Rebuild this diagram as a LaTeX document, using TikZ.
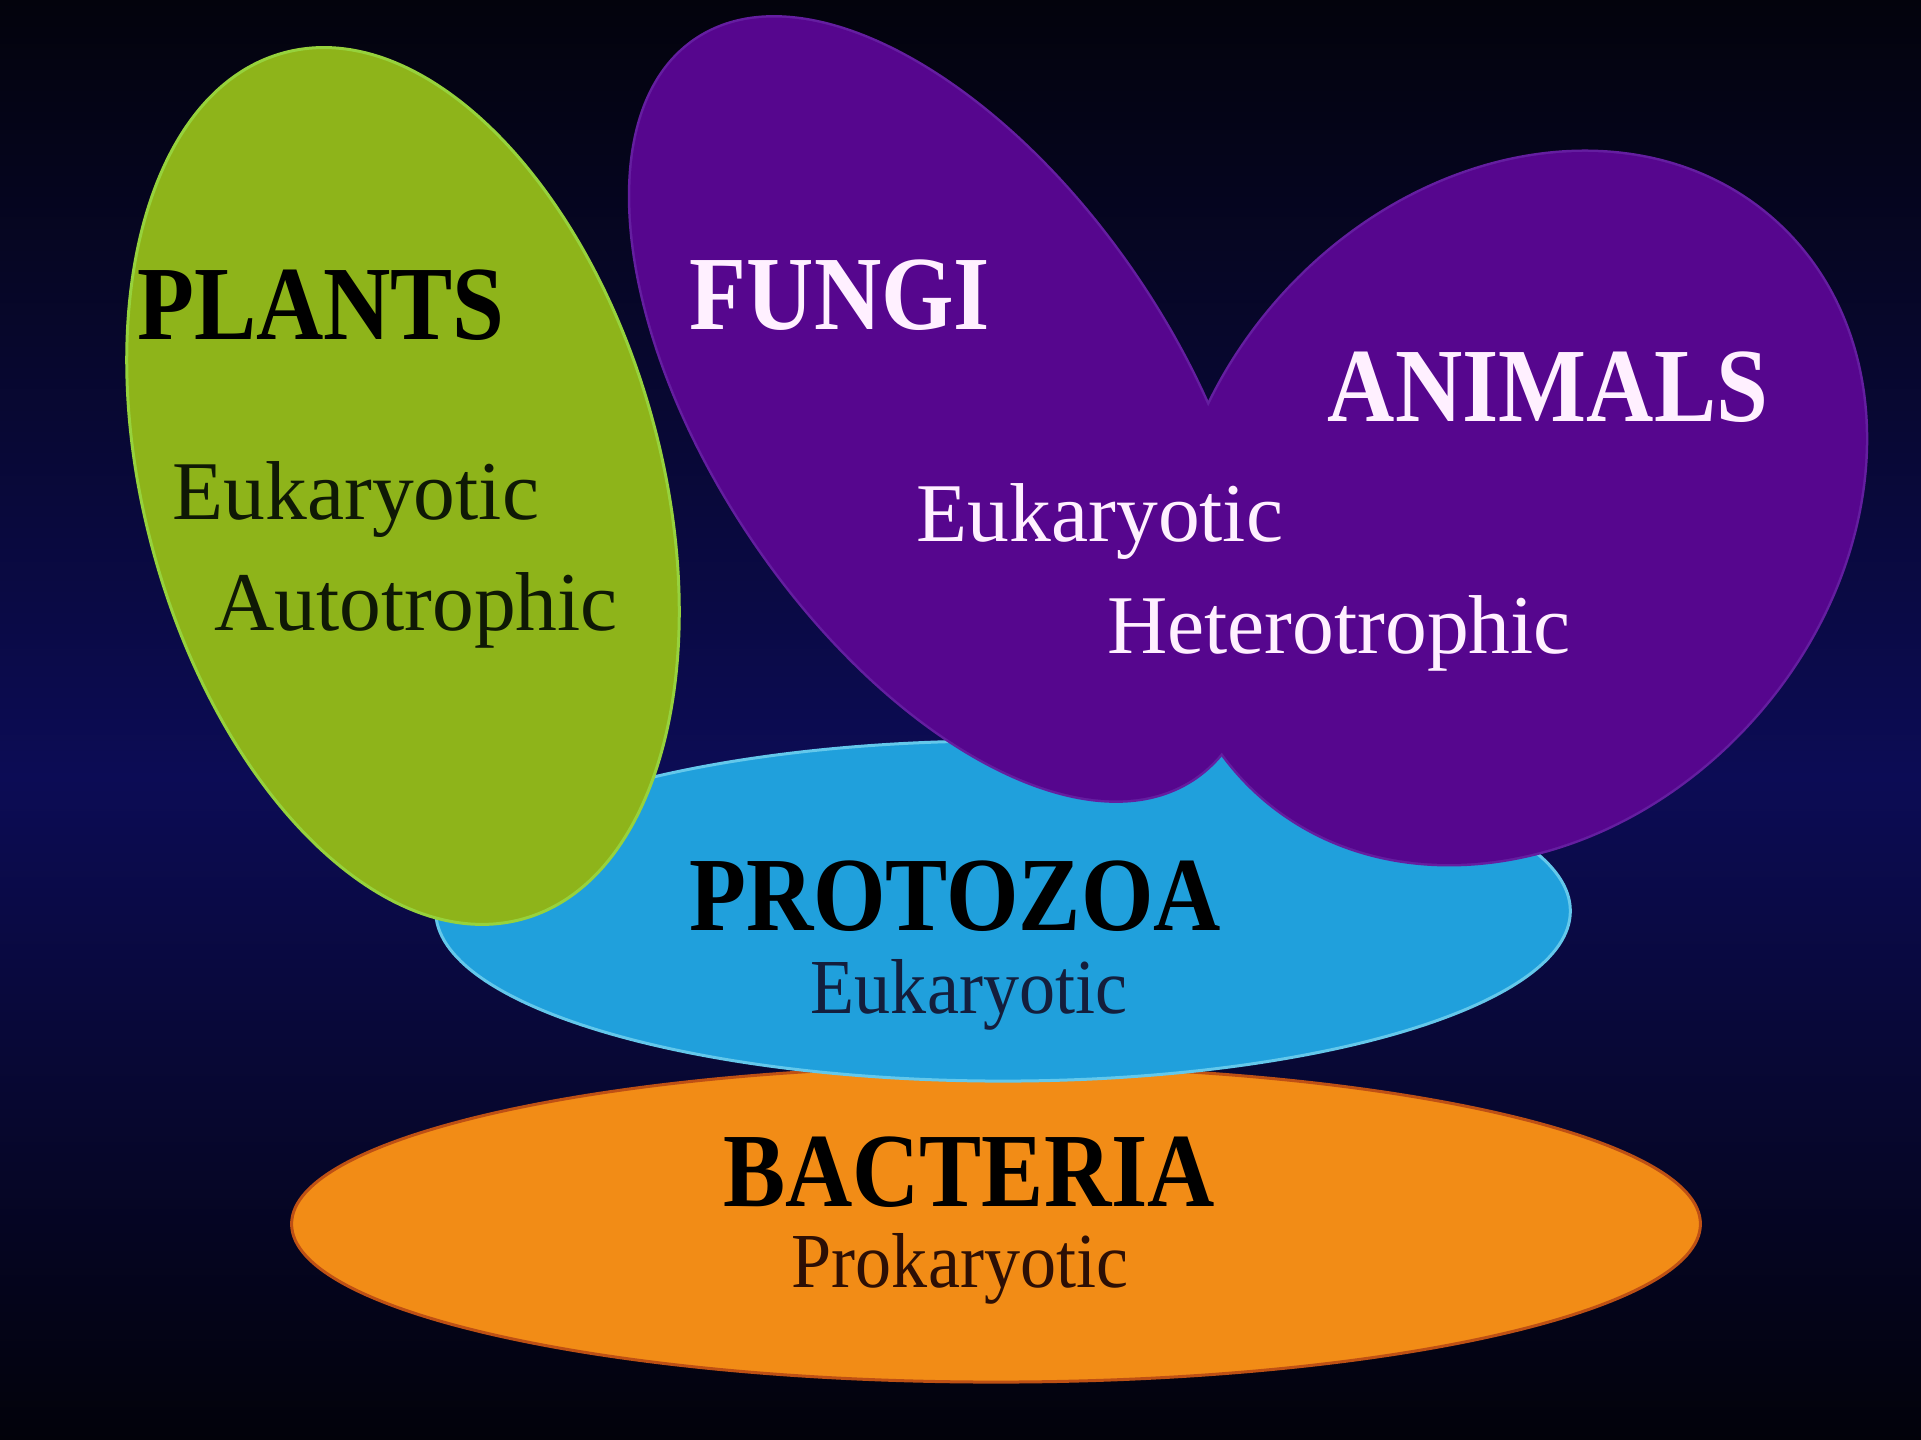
\documentclass[tikz,border=0pt]{standalone}
\usepackage{fontspec}
\setmainfont{Liberation Serif}
\definecolor{bgtop}{RGB}{3,3,12}
\definecolor{bgmid}{RGB}{12,12,85}
\definecolor{bgbot}{RGB}{2,2,10}
\definecolor{plantc}{RGB}{142,180,26}
\definecolor{plantedge}{RGB}{150,210,60}
\definecolor{purp}{RGB}{86,6,142}
\definecolor{purpedge}{RGB}{100,30,160}
\definecolor{protc}{RGB}{32,160,220}
\definecolor{protedge}{RGB}{100,200,235}
\definecolor{bactc}{RGB}{242,140,22}
\definecolor{bactedge}{RGB}{190,80,20}
\definecolor{wtext}{RGB}{255,240,255}
\definecolor{dgreen}{RGB}{15,25,5}
\definecolor{dnavy}{RGB}{20,30,60}
\definecolor{dbrown}{RGB}{45,15,5}
\pgfdeclareverticalshading{bgshade}{100bp}{color(0bp)=(bgbot); color(25bp)=(bgbot); color(48bp)=(bgmid); color(75bp)=(bgtop); color(100bp)=(bgtop)}
\tikzset{
  title/.style={font=\bfseries\fontsize{26.5pt}{30pt}\selectfont, anchor=base, inner sep=0pt},
  subbig/.style={font=\fontsize{23.75pt}{27pt}\selectfont, anchor=base, inner sep=0pt},
  subsmall/.style={font=\fontsize{20.5pt}{24pt}\selectfont, anchor=base, inner sep=0pt},
  edge/.style={line width=0.05cm}
}
\begin{document}
\begin{tikzpicture}[x=0.01cm,y=0.01cm]
\useasboundingbox (0,0) rectangle (1921,1440);
\shade[shading=bgshade] (0,0) rectangle (1921,1440);
% bacteria
\fill[bactc, draw=bactedge, line width=0.03cm] (996,216) ellipse [x radius=7.04cm, y radius=1.58cm];
% protozoa
\fill[protc, draw=protedge, line width=0.03cm] (1003,529) ellipse [x radius=5.67cm, y radius=1.70cm];
% plants
\fill[plantc, draw=plantedge, line width=0.03cm, shift={(403,954)}, rotate=-74.5] (0,0) ellipse [x radius=4.49cm, y radius=2.58cm];
% fungi + animals
\draw[purpedge, edge, shift={(945,1031)}, rotate=-56] (0,0) ellipse [x radius=4.45cm, y radius=2.32cm];
\draw[purpedge, edge, shift={(1517,932)}, rotate=48] (0,0) ellipse [x radius=3.85cm, y radius=3.16cm];
\fill[purp, shift={(945,1031)}, rotate=-56] (0,0) ellipse [x radius=4.45cm, y radius=2.32cm];
\fill[purp, shift={(1517,932)}, rotate=48] (0,0) ellipse [x radius=3.85cm, y radius=3.16cm];
% texts
\node[title, text=black] (plants) at (321,1100) {\scalebox{1}[1.13]{PLANTS}};
\node[subbig, text=dgreen] (pleuk) at (356,920) {Eukaryotic};
\node[subbig, text=dgreen] (plauto) at (416,809) {Autotrophic};
\node[title, text=wtext] (fungi) at (840,1110) {\scalebox{1}[1.13]{FUNGI}};
\node[title, text=wtext] (animals) at (1548,1018) {\scalebox{1}[1.13]{ANIMALS}};
\node[subbig, text=wtext] (faeuk) at (1100,898) {Eukaryotic};
\node[subbig, text=wtext] (fahet) at (1339,786) {Heterotrophic};
\node[title, text=black] (proto) at (955,509) {\scalebox{1}[1.13]{PROTOZOA}};
\node[subsmall, text=dnavy] (preuk) at (969,426) {\scalebox{1}[1.08]{Eukaryotic}};
\node[title, text=black] (bact) at (969,233) {\scalebox{1}[1.13]{BACTERIA}};
\node[subsmall, text=dbrown] (bapro) at (960,152) {\scalebox{1}[1.08]{Prokaryotic}};
\end{tikzpicture}
\end{document}
